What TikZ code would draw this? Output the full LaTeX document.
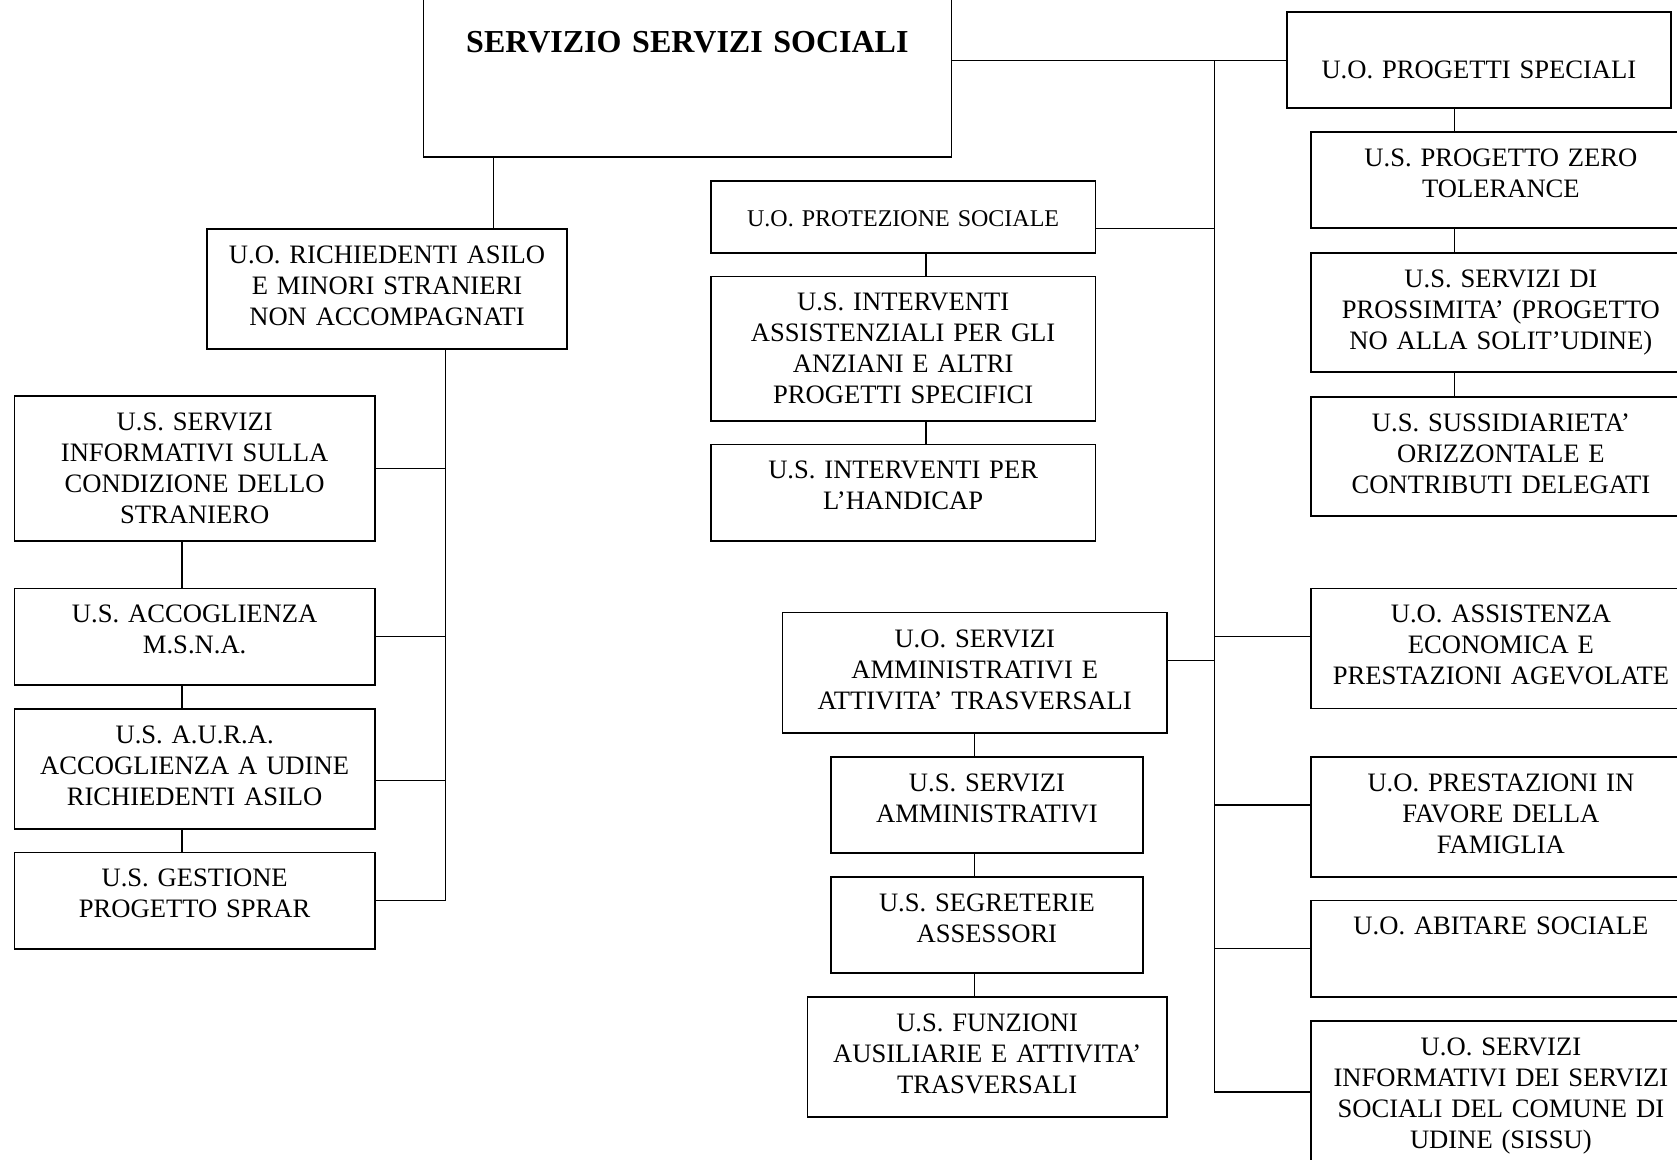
\documentclass[tikz,border=0pt]{standalone}
\usepackage{fontspec}
\setmainfont{Liberation Serif}
\usepackage{tikz}
\usetikzlibrary{calc}
\newcommand*{\px  }{0.5pt}
\newcommand*{\body}{\fontsize{13.3}{15.5}\selectfont}

\begin{document}
\begin{tikzpicture}[x=\px, y=-\px,
    unit/.style 2 args={draw, line width=0.9pt, anchor=north west, inner sep=0pt, align=center,
        font=\body, text width=#1*\px, text height=17.2pt, text depth=#2*\px-17.2pt},
    link/.style={line width=0.6pt}]
    \useasboundingbox (0,0) rectangle (1677,1160);
    \clip (0,0) rectangle (1677,1160);
    % top
    \node [unit={528}{166}, text height=31pt, text depth=52pt, font=\fontsize{16}{18}\selectfont\bfseries] (servizio) at (422.5,-10) {SERVIZIO SERVIZI SOCIALI};
    % left branch
    \node [unit={359.4}{120}] (richiedenti) at (206.4,228) {U.O. RICHIEDENTI ASILO\\E MINORI STRANIERI\\NON ACCOMPAGNATI};
    \node [unit={360.5}{144.6}] (informativi) at (13.5,395.5) {U.S. SERVIZI\\INFORMATIVI SULLA\\CONDIZIONE DELLO\\STRANIERO};
    \node [unit={360.5}{96.4}] (accoglienza) at (13.5,587.6) {U.S. ACCOGLIENZA\\M.S.N.A.};
    \node [unit={360.5}{120.2}] (aura) at (13.5,707.7) {U.S. A.U.R.A.\\ACCOGLIENZA A UDINE\\RICHIEDENTI ASILO};
    \node [unit={360.5}{96.4}] (sprar) at (13.5,851.6) {U.S. GESTIONE\\PROGETTO SPRAR};
    % middle
    \node [unit={384.5}{72}, text height=22.7pt, text depth=13.3pt, font=\fontsize{12}{14}\selectfont] (protezione) at (710,180) {U.O. PROTEZIONE SOCIALE};
    \node [unit={384.5}{144.4}] (interventi) at (710,275.6) {U.S. INTERVENTI\\ASSISTENZIALI PER GLI\\ANZIANI E ALTRI\\PROGETTI SPECIFICI};
    \node [unit={384.5}{96.5}] (handicap) at (710,443.6) {U.S. INTERVENTI PER\\L’HANDICAP};
    \node [unit={384.4}{120}] (sa) at (781.6,611.7) {U.O. SERVIZI\\AMMINISTRATIVI E\\ATTIVITA’ TRASVERSALI};
    \node [unit={312}{96}] (servamm) at (830,756) {U.S. SERVIZI\\AMMINISTRATIVI};
    \node [unit={312}{96}] (segreterie) at (830,875.7) {U.S. SEGRETERIE\\ASSESSORI};
    \node [unit={359.5}{120}] (funzioni) at (806.5,996) {U.S. FUNZIONI\\AUSILIARIE E ATTIVITA’\\TRASVERSALI};
    % right branch
    \node [unit={384}{96}, text height=33.2pt, text depth=14.8pt] (progetti) at (1286,11.5) {U.O. PROGETTI SPECIALI};
    \node [unit={380}{96.5}] (zero) at (1310,131) {U.S. PROGETTO ZERO\\TOLERANCE};
    \node [unit={380}{119.5}] (pross) at (1310,252) {U.S. SERVIZI DI\\PROSSIMITA’ (PROGETTO\\NO ALLA SOLIT’UDINE)};
    \node [unit={380}{119.5}] (suss) at (1310,396) {U.S. SUSSIDIARIETA’\\ORIZZONTALE E\\CONTRIBUTI DELEGATI};
    \node [unit={380}{120}] (assistenza) at (1310,587.6) {U.O. ASSISTENZA\\ECONOMICA E\\PRESTAZIONI AGEVOLATE};
    \node [unit={380}{120}] (prestazioni) at (1310,756) {U.O. PRESTAZIONI IN\\FAVORE DELLA\\FAMIGLIA};
    \node [unit={380}{96.5}] (abitare) at (1310,899.5) {U.O. ABITARE SOCIALE};
    \node [unit={380}{170}] (sissu) at (1310,1020) {U.O. SERVIZI\\INFORMATIVI DEI SERVIZI\\SOCIALI DEL COMUNE DI\\UDINE (SISSU)};
    % buses
    \coordinate (mbus)  at (493.6,0);
    \coordinate (lbus)  at (445.8,0);
    \coordinate (lcol)  at (181.9,0);
    \coordinate (pbus)  at (926,0);
    \coordinate (trunk) at (1214.6,0);
    \coordinate (rcol)  at (1454.5,0);
    % links
    \draw [link] (servizio.south -| mbus) -- (richiedenti.north -| mbus);
    \draw [link] (richiedenti.south -| lbus) |- (sprar.east);
    \draw [link] (informativi.east) -- (informativi.east -| lbus);
    \draw [link] (accoglienza.east) -- (accoglienza.east -| lbus);
    \draw [link] ([yshift=-6pt]aura.east) -- ([yshift=-6pt]aura.east -| lbus);
    \draw [link] (informativi.south -| lcol) -- (accoglienza.north -| lcol);
    \draw [link] (accoglienza.south -| lcol) -- (aura.north -| lcol);
    \draw [link] (aura.south -| lcol) -- (sprar.north -| lcol);
    \draw [link] (progetti.west -| servizio.east) -- (progetti.west);
    \draw [link] (progetti.west -| trunk) |- ([yshift=-36pt]sissu.north west);
    \draw [link] ([yshift=-6pt]protezione.east) -- ([yshift=-6pt]protezione.east -| trunk);
    \draw [link] ([yshift=6pt]sa.east) -- ([yshift=6pt]sa.east -| trunk);
    \draw [link] ([yshift=6pt]assistenza.west -| trunk) -- ([yshift=6pt]assistenza.west);
    \draw [link] ([yshift=6pt]prestazioni.west -| trunk) -- ([yshift=6pt]prestazioni.west);
    \draw [link] (abitare.west -| trunk) -- (abitare.west);
    \draw [link] (protezione.south -| pbus) -- (interventi.north -| pbus);
    \draw [link] (interventi.south -| pbus) -- (handicap.north -| pbus);
    \draw [link] (sa.south) -- (servamm.north -| sa.south);
    \draw [link] (servamm.south -| sa.south) -- (segreterie.north -| sa.south);
    \draw [link] (segreterie.south -| sa.south) -- (funzioni.north -| sa.south);
    \draw [link] (progetti.south -| rcol) -- (zero.north -| rcol);
    \draw [link] (zero.south -| rcol) -- (pross.north -| rcol);
    \draw [link] (pross.south -| rcol) -- (suss.north -| rcol);
\end{tikzpicture}
\end{document}
